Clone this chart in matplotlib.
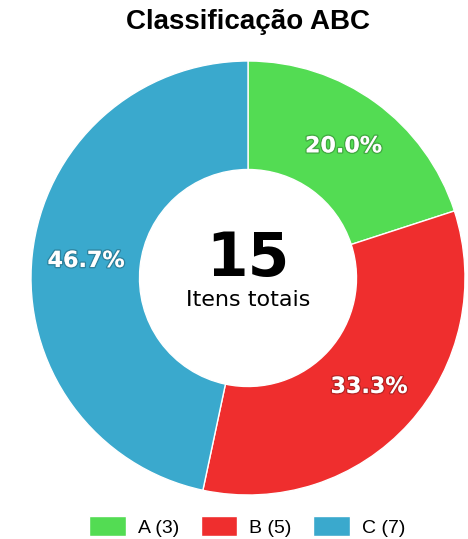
import matplotlib.pyplot as plt
import matplotlib.patheffects as pe

categories = ["A", "B", "C"]
counts = [3, 5, 7]
colors = ["#53dc53", "#ef2e2e", "#3aa9cd"]
title = "Classificação ABC"
center_label = "Itens totais"

fig = plt.figure(figsize=(4.68, 5.39), dpi=100)
ax = fig.add_axes([31 / 468, 44 / 539, 434 / 468, 434 / 539])

wedges, texts, autotexts = ax.pie(
    counts, colors=colors, startangle=90, counterclock=False,
    autopct="%1.1f%%", pctdistance=0.75, radius=1.0,
    wedgeprops=dict(width=0.5, edgecolor="white", linewidth=1))

for t in autotexts:
    t.set_color("white")
    t.set_fontsize(16)
    t.set_fontweight("bold")
    t.set_path_effects([pe.withStroke(linewidth=2, foreground=(0, 0, 0, 0.22))])

ax.text(0, 0.085, str(sum(counts)), ha="center", va="center",
        fontsize=43, fontweight="bold")
ax.text(0, -0.1, center_label, ha="center", va="center", fontsize=16)
ax.set_xlim(-1, 1)
ax.set_ylim(-1, 1)
ax.set_aspect("equal")
ax.axis("off")

fig.text(0.53, 0.959, title, ha="center", va="center", fontsize=20,
         fontweight="bold", family="Liberation Sans")

labels = [f"{c} ({n})" for c, n in zip(categories, counts)]
fig.legend(wedges, labels, loc="center", bbox_to_anchor=(0.528, 0.023),
           ncol=3, frameon=False, handlelength=1.9, handleheight=1.2,
           handletextpad=0.6, columnspacing=1.1,
           prop={"family": "Liberation Sans", "size": 14})

fig.savefig("out.png", dpi=100)
